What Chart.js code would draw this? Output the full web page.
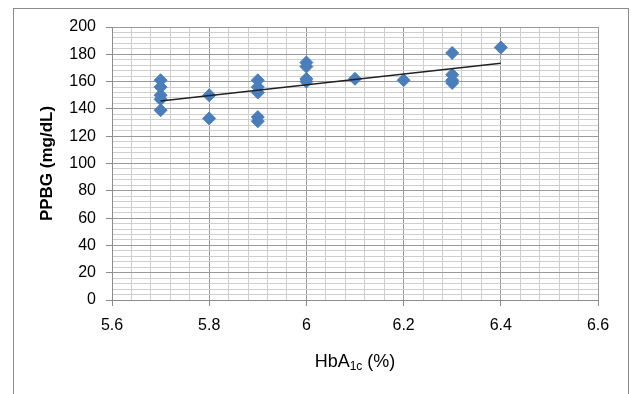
<!DOCTYPE html>
<html>
<head>
<meta charset="utf-8">
<script src="https://cdn.jsdelivr.net/npm/chart.js@4/dist/chart.umd.min.js"></script>
<style>
html,body{margin:0;padding:0;background:#fff;}
#wrap{position:relative;width:633px;height:394px;overflow:hidden;}
#c{position:absolute;left:0;top:0;}
#xt{position:absolute;left:255px;top:351px;width:200px;text-align:center;font-family:"Liberation Sans",Arial,sans-serif;font-size:18px;color:#000;}
#xt sub{font-size:12px;vertical-align:-3px;line-height:0;}
</style>
</head>
<body>
<div id="wrap">
<canvas id="c" width="633" height="394"></canvas>
<div id="xt">HbA<sub>1c</sub> (%)</div>
</div>
<script>
// HbA1c (%) values of each subject
const hba1c = [5.7, 5.7, 5.7, 5.7, 5.7,
               5.8, 5.8,
               5.9, 5.9, 5.9, 5.9, 5.9,
               6.0, 6.0, 6.0, 6.0,
               6.1,
               6.2,
               6.3, 6.3, 6.3, 6.3,
               6.4];
// PPBG (mg/dL) values of each subject
const ppbg  = [161, 156, 150, 147, 139,
               150, 133,
               161, 156, 152, 134, 131,
               174, 171, 162, 160,
               162,
               161,
               181, 165, 161, 159,
               185];
// linear trend line end points
const trendX = [5.7, 6.4];
const trendY = [145.8, 173.4];
// axis settings
const xMin = 5.6, xMax = 6.6, xMajor = 0.2, xMinor = 0.04;
const yMin = 0, yMax = 200, yMajor = 20, yMinor = 4;
const yTitle = 'PPBG (mg/dL)';

const isMajor = (v, step) => Math.abs(v / step - Math.round(v / step)) < 1e-6;
const FONT = '"Liberation Sans", Arial, sans-serif';

const frame = {
  id: 'frame',
  beforeDraw(chart) {
    const ctx = chart.ctx;
    ctx.save();
    ctx.strokeStyle = '#8c8c8c';
    ctx.lineWidth = 1;
    ctx.strokeRect(13.5, 8.5, 615, 420);
    ctx.restore();
  }
};

new Chart(document.getElementById('c'), {
  type: 'scatter',
  data: {
    datasets: [
      {
        type: 'line',
        data: trendX.map((x, i) => ({x: x, y: trendY[i]})),
        borderColor: '#222222',
        borderWidth: 1.5,
        pointRadius: 0,
        fill: false,
        order: 0
      },
      {
        data: hba1c.map((x, i) => ({x: x, y: ppbg[i]})),
        pointStyle: 'rectRot',
        pointRadius: 6.5,
        pointHoverRadius: 6.5,
        backgroundColor: '#4a7ebb',
        borderColor: '#4a7ebb',
        borderWidth: 1,
        order: 1
      }
    ]
  },
  options: {
    responsive: false,
    animation: false,
    events: [],
    layout: {padding: {left: 0, top: 27, right: 35, bottom: 0}},
    plugins: {legend: {display: false}, tooltip: {enabled: false}},
    scales: {
      x: {
        type: 'linear',
        min: xMin, max: xMax,
        afterFit(s) { s.height = 94; },
        border: {color: '#8c8c8c', width: 1},
        grid: {
          color: c => isMajor(c.tick.value, xMajor) ? '#9a9a9a' : '#cfcfcf',
          tickColor: c => isMajor(c.tick.value, xMajor) ? '#8c8c8c' : 'rgba(0,0,0,0)',
          tickLength: 6,
          lineWidth: 1
        },
        ticks: {
          stepSize: xMinor,
          autoSkip: false,
          maxTicksLimit: 1000,
          maxRotation: 0,
          padding: 10,
          color: '#000',
          font: {family: FONT, size: 16},
          callback: v => isMajor(v, xMajor) ? String(Math.round(v * 10) / 10) : ''
        }
      },
      y: {
        type: 'linear',
        min: yMin, max: yMax,
        afterFit(s) { s.width = 112; },
        border: {color: '#8c8c8c', width: 1},
        grid: {
          color: c => isMajor(c.tick.value, yMajor) ? '#9a9a9a' : '#cfcfcf',
          tickColor: c => isMajor(c.tick.value, yMajor) ? '#8c8c8c' : 'rgba(0,0,0,0)',
          tickLength: 6,
          lineWidth: 1
        },
        ticks: {
          stepSize: yMinor,
          autoSkip: false,
          maxTicksLimit: 1000,
          padding: 10,
          color: '#000',
          font: {family: FONT, size: 16},
          callback: v => isMajor(v, yMajor) ? String(Math.round(v)) : ''
        },
        title: {
          display: true,
          text: yTitle,
          color: '#000',
          font: {family: FONT, size: 17, weight: 'bold'},
          padding: {top: 37, bottom: 0}
        }
      }
    }
  },
  plugins: [frame]
});
</script>
</body>
</html>
